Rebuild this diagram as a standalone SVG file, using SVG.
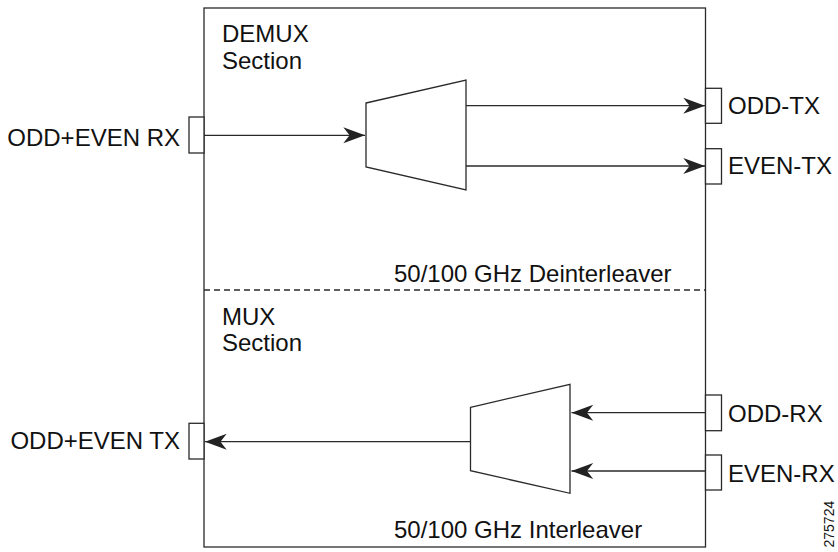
<svg xmlns="http://www.w3.org/2000/svg" width="838" height="552" viewBox="0 0 838 552">
<defs>
<style>
.ln{fill:none;stroke:#2a2a2a;stroke-width:1.3}
.bx{fill:#fff;stroke:#2a2a2a;stroke-width:1.3}
.t{font-family:"Liberation Sans",Arial,Helvetica,sans-serif;font-size:24px;fill:#111}
.s{font-family:"Liberation Sans",Arial,Helvetica,sans-serif;font-size:14px;fill:#111}
</style>
<marker id="ah" markerUnits="userSpaceOnUse" markerWidth="24" markerHeight="20" viewBox="-20 -8 21 16" refX="0" refY="0" orient="auto">
<path d="M0,0 L-19,-7 L-13.5,0 L-19,7 Z" fill="#222"/>
</marker>
</defs>
<rect width="838" height="552" fill="#fff"/>
<g id="frame">
<rect class="ln" x="204" y="8" width="501.5" height="539"/>
<line class="ln" x1="204" y1="290" x2="705.5" y2="290" stroke-dasharray="6,4"/>
<text class="t" x="222" y="42">DEMUX</text>
<text class="t" x="222" y="68.5">Section</text>
<text class="t" x="394" y="282.3">50/100 GHz Deinterleaver</text>
<text class="t" x="222" y="325">MUX</text>
<text class="t" x="222" y="351">Section</text>
<text class="t" x="394" y="537.5">50/100 GHz Interleaver</text>
</g>
<g id="connectors">
<line class="ln" x1="204" y1="135.3" x2="365" y2="135.3" marker-end="url(#ah)"/>
<line class="ln" x1="466" y1="105.7" x2="705" y2="105.7" marker-end="url(#ah)"/>
<line class="ln" x1="466" y1="166" x2="705" y2="166" marker-end="url(#ah)"/>
<line class="ln" x1="470.5" y1="441.7" x2="205" y2="441.7" marker-end="url(#ah)"/>
<line class="ln" x1="705.5" y1="412.7" x2="571.5" y2="412.7" marker-end="url(#ah)"/>
<line class="ln" x1="705.5" y1="471" x2="571.5" y2="471" marker-end="url(#ah)"/>
</g>
<g id="demux">
<polygon class="bx" points="366,103 466,80 466,190 366,167"/>
</g>
<g id="mux">
<polygon class="bx" points="470.5,407.3 570,384.3 570,493.3 470.5,470.7"/>
</g>
<g id="port-oddeven-rx">
<rect class="bx" x="189" y="117" width="15" height="36"/>
<text class="t" x="180" y="145.7" text-anchor="end">ODD+EVEN RX</text>
</g>
<g id="port-odd-tx">
<rect class="bx" x="705.5" y="88.3" width="16" height="35"/>
<text class="t" x="728" y="114.3">ODD-TX</text>
</g>
<g id="port-even-tx">
<rect class="bx" x="705.5" y="148.7" width="16" height="35.3"/>
<text class="t" x="728" y="174.3">EVEN-TX</text>
</g>
<g id="port-oddeven-tx">
<rect class="bx" x="189" y="423.3" width="15" height="35.7"/>
<text class="t" x="180" y="449.3" text-anchor="end">ODD+EVEN TX</text>
</g>
<g id="port-odd-rx">
<rect class="bx" x="705.5" y="395" width="16" height="35.7"/>
<text class="t" x="728" y="421.7">ODD-RX</text>
</g>
<g id="port-even-rx">
<rect class="bx" x="705.5" y="455" width="16" height="35"/>
<text class="t" x="728" y="481.7">EVEN-RX</text>
</g>
<text class="s" transform="translate(834,547.5) rotate(-90)">275724</text>
</svg>
